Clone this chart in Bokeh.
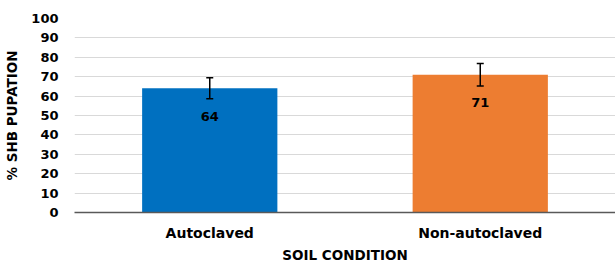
from bokeh.plotting import figure
from bokeh.models import ColumnDataSource, FactorRange, Range1d, Whisker, FixedTicker
from bokeh.core.properties import value
from bokeh.embed import file_html
from bokeh.resources import INLINE

categories = ["Autoclaved", "Non-autoclaved"]
pupation = [64, 71]
errors = [5.4, 5.8]
colors = ["#0070C0", "#ED7D31"]
labels = ["64", "71"]
y_ticks = [0, 10, 20, 30, 40, 50, 60, 70, 80, 90, 100]

FONT = "DejaVu Sans"

src = ColumnDataSource(dict(
    cat=categories,
    val=pupation,
    upper=[v + e for v, e in zip(pupation, errors)],
    lower=[v - e for v, e in zip(pupation, errors)],
    color=colors,
    label=labels,
))

p = figure(x_range=FactorRange(*categories), y_range=Range1d(0, 100),
           width=615, height=265, output_backend="svg", toolbar_location=None,
           min_border_left=74, min_border_right=0, min_border_top=18, min_border_bottom=53)
p.outline_line_color = None

p.vbar(x="cat", top="val", width=0.5, color="color", line_color=None, source=src)

w = Whisker(base="cat", upper="upper", lower="lower", source=src,
            line_color="black", line_width=1.5, level="overlay")
w.upper_head.size = 7
w.lower_head.size = 7
w.upper_head.line_width = 1.5
w.lower_head.line_width = 1.5
p.add_layout(w)

p.text(x="cat", y="val", text="label", source=src, y_offset=28,
       text_align="center", text_baseline="middle",
       text_font=value(FONT), text_font_style="bold", text_font_size="13px",
       text_color="black")

# axes
p.yaxis.ticker = FixedTicker(ticks=y_ticks)
p.yaxis.axis_line_color = None
p.yaxis.major_tick_line_color = None
p.yaxis.minor_tick_line_color = None
p.yaxis.major_label_standoff = 10
p.yaxis.major_label_text_font = FONT
p.yaxis.major_label_text_font_style = "bold"
p.yaxis.major_label_text_font_size = "13px"
p.yaxis.major_label_text_color = "black"
p.yaxis.axis_label = "% SHB PUPATION"
p.yaxis.axis_label_text_font = FONT
p.yaxis.axis_label_text_font_style = "bold"
p.yaxis.axis_label_text_font_size = "13.5px"
p.yaxis.axis_label_text_color = "black"
p.yaxis.axis_label_standoff = 8

p.xaxis.axis_line_color = "#595959"
p.xaxis.axis_line_width = 1.5
p.xaxis.major_tick_line_color = None
p.xaxis.minor_tick_line_color = None
p.xaxis.major_label_standoff = 6
p.xaxis.major_label_text_font = FONT
p.xaxis.major_label_text_font_style = "bold"
p.xaxis.major_label_text_font_size = "14px"
p.xaxis.major_label_text_color = "black"
p.xaxis.axis_label = "SOIL CONDITION"
p.xaxis.axis_label_text_font = FONT
p.xaxis.axis_label_text_font_style = "bold"
p.xaxis.axis_label_text_font_size = "13.5px"
p.xaxis.axis_label_text_color = "black"
p.xaxis.axis_label_standoff = 3

p.xgrid.grid_line_color = None
p.ygrid.grid_line_color = "#D9D9D9"
p.ygrid.grid_line_width = 1

open("out.html", "w").write(file_html(p, INLINE))
